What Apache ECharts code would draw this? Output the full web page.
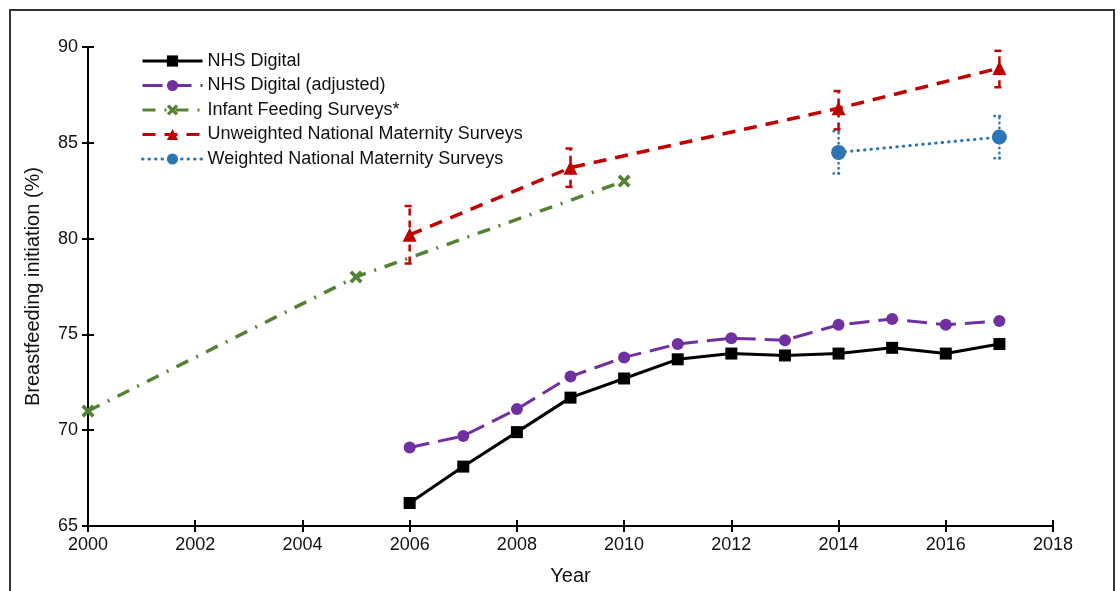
<!DOCTYPE html>
<html>
<head>
<meta charset="utf-8">
<script src="https://cdn.jsdelivr.net/npm/echarts@6/dist/echarts.min.js"></script>
<style>
  html, body { margin: 0; padding: 0; background: #fff; }
  #chart { width: 1120px; height: 591px; }
</style>
</head>
<body>
<div id="chart"></div>
<script>
// Breastfeeding initiation in England by data source, 2000-2017
const nhsYears = [2006, 2007, 2008, 2009, 2010, 2011, 2012, 2013, 2014, 2015, 2016, 2017];
const nhsDigital = [66.2, 68.1, 69.9, 71.7, 72.7, 73.7, 74.0, 73.9, 74.0, 74.3, 74.0, 74.5];
const nhsAdjusted = [69.1, 69.7, 71.1, 72.8, 73.8, 74.5, 74.8, 74.7, 75.5, 75.8, 75.5, 75.7];

const ifsYears = [2000, 2005, 2010];
const infantFeeding = [71, 78, 83];

const unwYears = [2006, 2009, 2014, 2017];
const unweighted = [80.2, 83.7, 86.8, 88.9];
const unweightedLow = [78.7, 82.7, 85.7, 87.9];
const unweightedHigh = [81.7, 84.7, 87.7, 89.8];

const wYears = [2014, 2017];
const weighted = [84.5, 85.3];
const weightedLow = [83.4, 84.2];
const weightedHigh = [85.6, 86.4];

const seriesNames = [
  'NHS Digital',
  'NHS Digital (adjusted)',
  'Infant Feeding Surveys*',
  'Unweighted National Maternity Surveys',
  'Weighted National Maternity Surveys'
];

const pair = (xs, ys) => xs.map((x, i) => [x, ys[i]]);
const triple = (xs, lo, hi) => xs.map((x, i) => [x, lo[i], hi[i]]);

const FONT = 'Liberation Sans, Arial, sans-serif';
const crossPath = 'path://M0,2 L2,0 L5,3 L8,0 L10,2 L7,5 L10,8 L8,10 L5,7 L2,10 L0,8 L3,5 Z';

// Error bar: vertical line plus short caps, styled like its series
function errorBar(color, dash, cap) {
  return function (params, api) {
    const x = api.value(0);
    const lo = api.coord([x, api.value(1)]);
    const hi = api.coord([x, api.value(2)]);
    const half = 5;
    const style = { stroke: color, lineWidth: 2.5, lineDash: dash, lineCap: cap, fill: null };
    return {
      type: 'group',
      children: [
        { type: 'line', shape: { x1: lo[0], y1: lo[1], x2: hi[0], y2: hi[1] }, style: style },
        { type: 'line', shape: { x1: hi[0] - half, y1: hi[1], x2: hi[0] + half, y2: hi[1] }, style: style },
        { type: 'line', shape: { x1: lo[0] - half, y1: lo[1], x2: lo[0] + half, y2: lo[1] }, style: style }
      ]
    };
  };
}

const axisText = { color: '#111', fontSize: 18, fontFamily: FONT };

const option = {
  backgroundColor: '#fff',
  animation: false,
  graphic: [{
    type: 'rect',
    shape: { x: 10, y: 10, width: 1104, height: 620 },
    style: { fill: null, stroke: '#333', lineWidth: 2 },
    silent: true, z: -1
  }],
  grid: { left: 88, right: 67, top: 47, bottom: 63 },
  legend: {
    orient: 'vertical',
    left: 136,
    top: 47,
    itemWidth: 60,
    itemHeight: 14,
    itemGap: 6.5,
    data: seriesNames,
    lineStyle: { width: 3 },
    textStyle: { color: '#111', fontSize: 18, fontFamily: FONT, lineHeight: 18 }
  },
  xAxis: [{
    type: 'value', min: 2000, max: 2018, interval: 2,
    position: 'bottom',
    name: 'Year', nameLocation: 'middle', nameGap: 40,
    nameTextStyle: { color: '#111', fontSize: 20, fontFamily: FONT },
    axisLine: { onZero: false, lineStyle: { color: '#000', width: 2 } },
    axisTick: { inside: false, length: 6, lineStyle: { color: '#000', width: 2 } },
    axisLabel: Object.assign({ margin: 10, formatter: v => String(v) }, axisText),
    splitLine: { show: false }
  }, {
    type: 'value', min: 2000, max: 2018, interval: 2,
    position: 'bottom', offset: 0,
    axisLine: { show: false },
    axisTick: { inside: true, length: 6, lineStyle: { color: '#000', width: 2 } },
    axisLabel: { show: false },
    splitLine: { show: false }
  }],
  yAxis: [{
    type: 'value', min: 65, max: 90, interval: 5,
    position: 'left',
    name: 'Breastfeeding initiation (%)', nameLocation: 'middle', nameGap: 45,
    nameTextStyle: { color: '#111', fontSize: 20, fontFamily: FONT },
    axisLine: { onZero: false, lineStyle: { color: '#000', width: 2 } },
    axisTick: { inside: false, length: 6, lineStyle: { color: '#000', width: 2 } },
    axisLabel: Object.assign({ margin: 10 }, axisText),
    splitLine: { show: false }
  }, {
    type: 'value', min: 65, max: 90, interval: 5,
    position: 'left', offset: 0,
    axisLine: { show: false },
    axisTick: { inside: true, length: 6, lineStyle: { color: '#000', width: 2 } },
    axisLabel: { show: false },
    splitLine: { show: false }
  }],
  series: [
    {
      name: seriesNames[3] + ' error', type: 'custom',
      renderItem: errorBar('#C00000', [7, 5], 'butt'),
      data: triple(unwYears, unweightedLow, unweightedHigh),
      encode: { x: 0, y: [1, 2] }, z: 1, silent: true
    },
    {
      name: seriesNames[4] + ' error', type: 'custom',
      renderItem: errorBar('#2E75B6', [0.5, 4.5], 'round'),
      data: triple(wYears, weightedLow, weightedHigh),
      encode: { x: 0, y: [1, 2] }, z: 1, silent: true
    },
    {
      name: seriesNames[0], type: 'line',
      data: pair(nhsYears, nhsDigital),
      symbol: 'rect', symbolSize: 12,
      itemStyle: { color: '#000' },
      lineStyle: { color: '#000', width: 3 }, z: 3
    },
    {
      name: seriesNames[1], type: 'line',
      data: pair(nhsYears, nhsAdjusted),
      symbol: 'circle', symbolSize: 12,
      itemStyle: { color: '#7030A0' },
      lineStyle: { color: '#7030A0', width: 3, type: [20, 9] }, z: 3
    },
    {
      name: seriesNames[2], type: 'line',
      data: pair(ifsYears, infantFeeding),
      symbol: crossPath, symbolSize: 13,
      itemStyle: { color: '#548235' },
      lineStyle: { color: '#548235', width: 3.5, type: [13, 9, 2, 9] }, z: 3
    },
    {
      name: seriesNames[3], type: 'line',
      data: pair(unwYears, unweighted),
      symbol: 'triangle', symbolSize: 14,
      itemStyle: { color: '#C00000' },
      lineStyle: { color: '#C00000', width: 3.5, type: [13, 9] }, z: 3
    },
    {
      name: seriesNames[4], type: 'line',
      data: pair(wYears, weighted),
      symbol: 'circle', symbolSize: 15,
      itemStyle: { color: '#2E75B6' },
      lineStyle: { color: '#2E75B6', width: 3, type: [0.5, 6], cap: 'round' }, z: 3
    }
  ]
};

const chart = echarts.init(document.getElementById('chart'), null, { renderer: 'canvas' });
chart.setOption(option);
</script>
</body>
</html>
